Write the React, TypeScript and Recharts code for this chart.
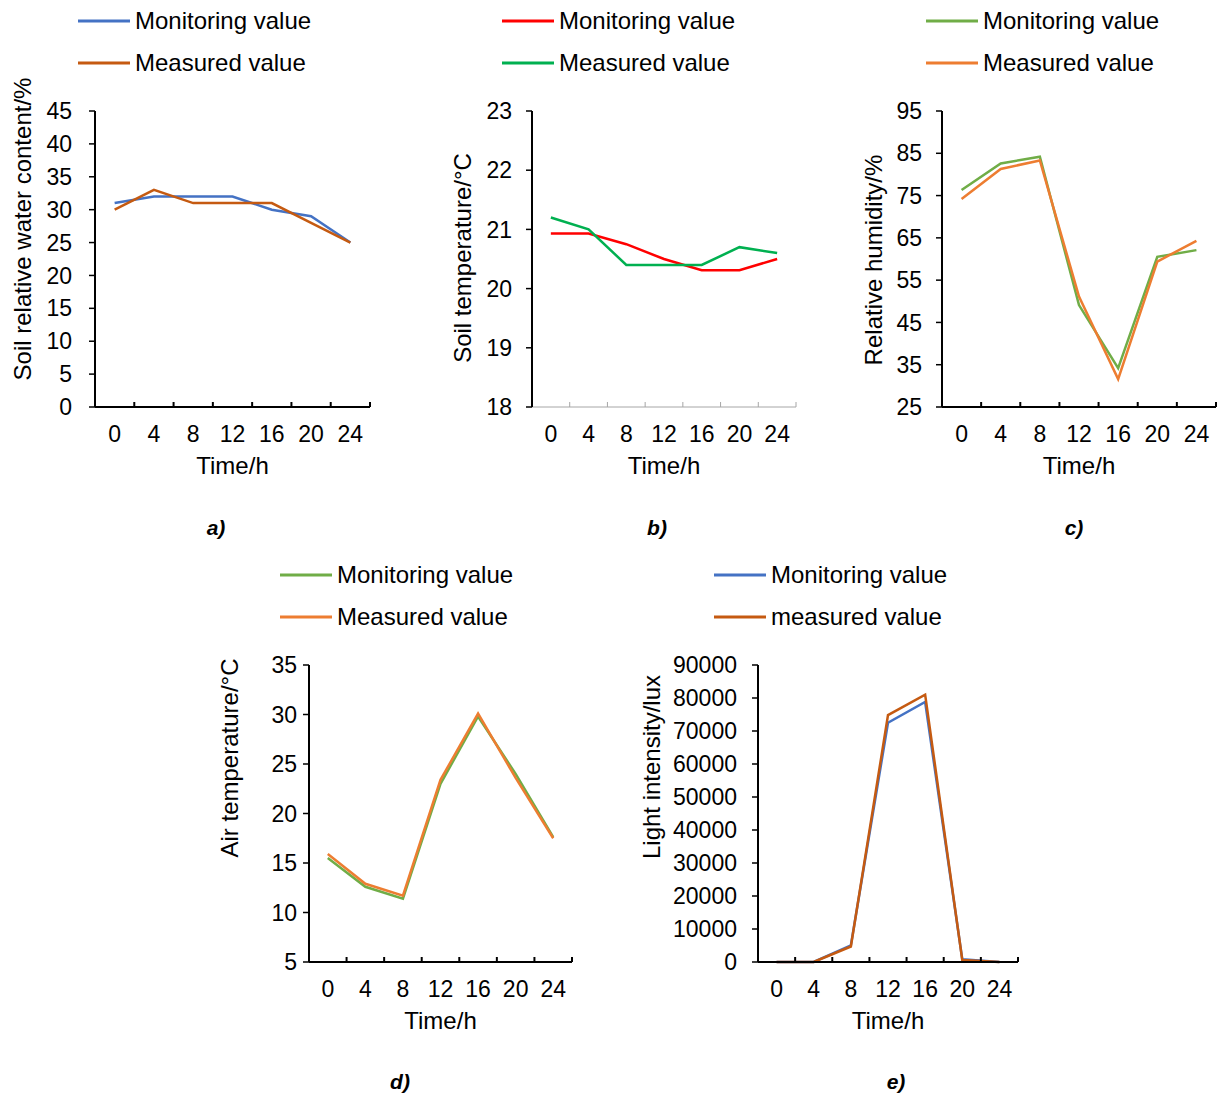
import { LineChart, Line, XAxis, YAxis, Legend } from "recharts";

// sampling hours shared by every panel
const hours = [0, 4, 8, 12, 16, 20, 24];

// a) soil relative water content (%)
const waterMonitoring = [31, 32, 32, 32, 30, 29, 25];
const waterMeasured = [30, 33, 31, 31, 31, 28, 25];
const waterTicks = [0, 5, 10, 15, 20, 25, 30, 35, 40, 45];

// b) soil temperature (°C)
const soilTempMonitoring = [20.93, 20.93, 20.75, 20.5, 20.31, 20.31, 20.5];
const soilTempMeasured = [21.2, 21.0, 20.4, 20.4, 20.4, 20.7, 20.6];
const soilTempTicks = [18, 19, 20, 21, 22, 23];

// c) relative humidity (%)
const humidityMonitoring = [76.3, 82.6, 84.2, 49.1, 34.2, 60.5, 62.1];
const humidityMeasured = [74.2, 81.3, 83.3, 51.1, 31.6, 59.4, 64.3];
const humidityTicks = [25, 35, 45, 55, 65, 75, 85, 95];

// d) air temperature (°C)
const airTempMonitoring = [15.5, 12.6, 11.4, 23.0, 29.8, 24.0, 17.6];
const airTempMeasured = [15.9, 12.9, 11.7, 23.4, 30.1, 23.6, 17.5];
const airTempTicks = [5, 10, 15, 20, 25, 30, 35];

// e) light intensity (lux)
const lightMonitoring = [0, 0, 5000, 72500, 78800, 800, 0];
const lightMeasured = [0, 0, 4700, 74800, 81000, 600, 0];
const lightTicks = [0, 10000, 20000, 30000, 40000, 50000, 60000, 70000, 80000, 90000];

const FONT = '"Liberation Sans", Arial, sans-serif';
const Y_AXIS_W = 60;
const X_AXIS_H = 70;
const SERIES_ORDER = ["monitoring", "measured"];

type PanelCfg = {
  left: number;
  top: number;
  width: number;
  height: number;
  margin: { top: number; right: number; bottom: number; left: number };
  yTicks: number[];
  yLabel: string;
  yLabelAt: [number, number];
  tickGap: number;
  monitoring: number[];
  measured: number[];
  monName: string;
  measName: string;
  monColor: string;
  measColor: string;
  legendLeft: number;
  xAxisColor: string;
  xAxisWidth: number;
};

function LegendBox({ payload }: any) {
  // keep series order (monitoring first) instead of alphabetical
  const items = [...(payload || [])].sort(
    (a: any, b: any) => SERIES_ORDER.indexOf(a.dataKey) - SERIES_ORDER.indexOf(b.dataKey)
  );
  return (
    <div style={{ height: 84, fontFamily: FONT }}>
      {items.map((e: any) => (
        <div key={e.value} style={{ height: 42, display: "flex", alignItems: "center" }}>
          <svg width={52} height={4} style={{ display: "block" }}>
            <line x1={0} y1={2} x2={52} y2={2} stroke={e.color} strokeWidth={3} />
          </svg>
          <span style={{ marginLeft: 5, fontSize: 24, color: "#000", whiteSpace: "nowrap" }}>{e.value}</span>
        </div>
      ))}
    </div>
  );
}

// tick label at band centre, small tick mark at the band boundary (Excel style)
function HourTick({ x, y, payload, step, color, sw }: any) {
  return (
    <g>
      <text x={x} y={y + 35} textAnchor="middle" fontSize={23} fill="#000" fontFamily={FONT}>
        {payload.value}
      </text>
      <line x1={x + step / 2} x2={x + step / 2} y1={y} y2={y - 5} stroke={color} strokeWidth={sw} />
    </g>
  );
}

function Panel({ cfg }: { cfg: PanelCfg }) {
  const data = hours.map((h, i) => ({
    hour: h,
    monitoring: cfg.monitoring[i],
    measured: cfg.measured[i],
  }));
  const plotLeft = cfg.margin.left + Y_AXIS_W;
  const plotWidth = cfg.width - plotLeft - cfg.margin.right;
  const step = plotWidth / hours.length;
  const plotBottom = cfg.height - cfg.margin.bottom - X_AXIS_H;
  const [lx, ly] = cfg.yLabelAt;

  return (
    <div style={{ position: "absolute", left: cfg.left, top: cfg.top }}>
      <LineChart width={cfg.width} height={cfg.height} data={data} margin={cfg.margin}>
        <Legend
          verticalAlign="top"
          align="left"
          layout="horizontal"
          content={<LegendBox />}
          wrapperStyle={{ top: 0, left: cfg.legendLeft, width: 340, height: 84 }}
        />
        <XAxis
          dataKey="hour"
          type="number"
          domain={[-2, 26]}
          ticks={hours}
          interval={0}
          height={X_AXIS_H}
          tickLine={false}
          tickSize={0}
          tickMargin={0}
          axisLine={{ stroke: cfg.xAxisColor, strokeWidth: cfg.xAxisWidth }}
          tick={<HourTick step={step} color={cfg.xAxisColor} sw={cfg.xAxisWidth} />}
          label={{
            value: "Time/h",
            content: () => (
              <text
                x={plotLeft + plotWidth / 2}
                y={plotBottom + 67}
                textAnchor="middle"
                fontSize={24}
                fill="#000"
                fontFamily={FONT}
              >
                Time/h
              </text>
            ),
          }}
        />
        <YAxis
          type="number"
          width={Y_AXIS_W}
          domain={[cfg.yTicks[0], cfg.yTicks[cfg.yTicks.length - 1]]}
          ticks={cfg.yTicks}
          interval={0}
          tickSize={6}
          tickMargin={cfg.tickGap}
          axisLine={{ stroke: "#000", strokeWidth: 2 }}
          tickLine={{ stroke: "#000", strokeWidth: 1.5 }}
          tick={{ fontSize: 23, fill: "#000", fontFamily: FONT }}
          label={{
            value: cfg.yLabel,
            content: () => (
              <text
                x={lx}
                y={ly}
                transform={`rotate(-90 ${lx} ${ly})`}
                textAnchor="middle"
                dominantBaseline="central"
                fontSize={24}
                fill="#000"
                fontFamily={FONT}
              >
                {cfg.yLabel}
              </text>
            ),
          }}
        />
        <Line
          dataKey="monitoring"
          name={cfg.monName}
          stroke={cfg.monColor}
          strokeWidth={2.5}
          dot={false}
          type="linear"
          isAnimationActive={false}
        />
        <Line
          dataKey="measured"
          name={cfg.measName}
          stroke={cfg.measColor}
          strokeWidth={2.5}
          dot={false}
          type="linear"
          isAnimationActive={false}
        />
      </LineChart>
    </div>
  );
}

const panels: PanelCfg[] = [
  {
    left: 0, top: 0, width: 390, height: 480,
    margin: { top: 27, right: 20, bottom: 3, left: 35 },
    yTicks: waterTicks, yLabel: "Soil relative water content/%", yLabelAt: [22, 229], tickGap: 17,
    monitoring: waterMonitoring, measured: waterMeasured,
    monName: "Monitoring value", measName: "Measured value",
    monColor: "#4472c4", measColor: "#c55a11",
    legendLeft: 78, xAxisColor: "#000", xAxisWidth: 2,
  },
  {
    left: 420, top: 0, width: 390, height: 480,
    margin: { top: 27, right: 14, bottom: 3, left: 52 },
    yTicks: soilTempTicks, yLabel: "Soil temperature/°C", yLabelAt: [42, 258], tickGap: 14,
    monitoring: soilTempMonitoring, measured: soilTempMeasured,
    monName: "Monitoring value", measName: "Measured value",
    monColor: "#ff0000", measColor: "#00b050",
    legendLeft: 82, xAxisColor: "#a6a6a6", xAxisWidth: 1,
  },
  {
    left: 840, top: 0, width: 377, height: 480,
    margin: { top: 27, right: 1, bottom: 3, left: 42 },
    yTicks: humidityTicks, yLabel: "Relative humidity/%", yLabelAt: [33, 260], tickGap: 14,
    monitoring: humidityMonitoring, measured: humidityMeasured,
    monName: "Monitoring value", measName: "Measured value",
    monColor: "#70ad47", measColor: "#ed7d31",
    legendLeft: 86, xAxisColor: "#000", xAxisWidth: 2,
  },
  {
    left: 190, top: 554, width: 400, height: 480,
    margin: { top: 27, right: 18, bottom: 2, left: 59 },
    yTicks: airTempTicks, yLabel: "Air temperature/°C", yLabelAt: [39, 204], tickGap: 6,
    monitoring: airTempMonitoring, measured: airTempMeasured,
    monName: "Monitoring value", measName: "Measured value",
    monColor: "#70ad47", measColor: "#ed7d31",
    legendLeft: 90, xAxisColor: "#000", xAxisWidth: 2,
  },
  {
    left: 610, top: 554, width: 420, height: 480,
    margin: { top: 27, right: 12, bottom: 2, left: 88 },
    yTicks: lightTicks, yLabel: "Light intensity/lux", yLabelAt: [41, 213], tickGap: 15,
    monitoring: lightMonitoring, measured: lightMeasured,
    monName: "Monitoring value", measName: "measured value",
    monColor: "#4472c4", measColor: "#c55a11",
    legendLeft: 104, xAxisColor: "#000", xAxisWidth: 2,
  },
];

const captions = [
  { text: "a)", x: 216, y: 528 },
  { text: "b)", x: 657, y: 528 },
  { text: "c)", x: 1074, y: 528 },
  { text: "d)", x: 400, y: 1082 },
  { text: "e)", x: 896, y: 1082 },
];

export default function App() {
  return (
    <div
      style={{
        position: "absolute",
        left: 0,
        top: 0,
        width: 1217,
        height: 1095,
        background: "#fff",
        fontFamily: FONT,
        overflow: "hidden",
      }}
    >
      {panels.map((p, i) => (
        <Panel key={i} cfg={p} />
      ))}
      {captions.map((c) => (
        <div
          key={c.text}
          style={{
            position: "absolute",
            left: c.x,
            top: c.y,
            transform: "translate(-50%, -50%)",
            fontSize: 21,
            fontWeight: "bold",
            fontStyle: "italic",
            color: "#000",
          }}
        >
          {c.text}
        </div>
      ))}
    </div>
  );
}
